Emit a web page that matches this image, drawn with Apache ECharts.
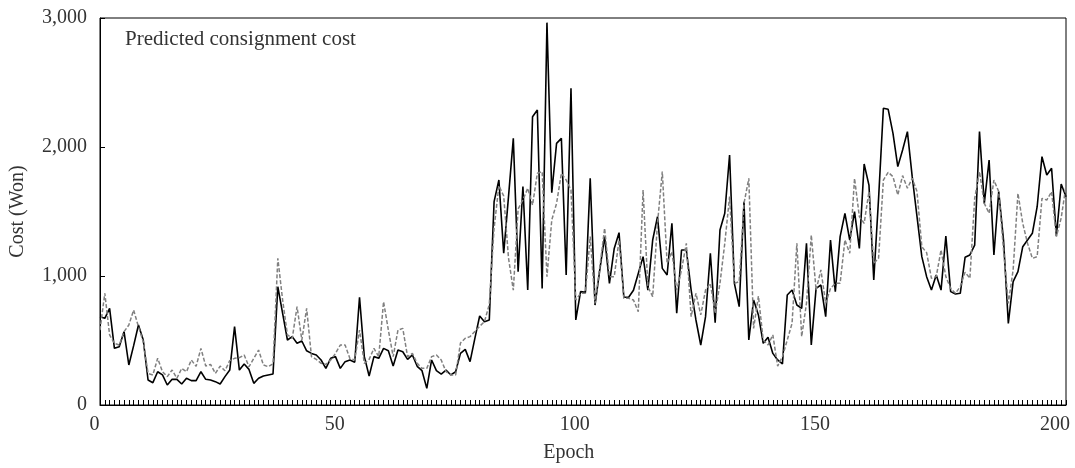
<!DOCTYPE html>
<html>
<head>
<meta charset="utf-8">
<script src="https://cdn.jsdelivr.net/npm/echarts@6/dist/echarts.min.js"></script>
<style>html,body{margin:0;padding:0;background:#fff}#c{width:1075px;height:468px}</style>
</head>
<body>
<div id="c"></div>
<script>
var actual = [685,672,749,439,452,568,310,460,620,504,194,173,258,233,155,199,199,163,207,189,
189,258,199,194,181,163,220,271,607,271,318,276,168,207,225,233,240,917,710,504,
530,478,496,420,400,388,349,284,362,375,284,336,349,331,835,375,225,375,362,439,
421,302,426,413,354,388,300,266,129,349,266,240,271,233,258,400,431,336,517,690,
646,659,1576,1744,1176,1615,2067,1034,1693,891,2235,2287,904,2964,1646,2028,2067,1008,2455,659,
879,873,1757,775,1050,1305,943,1214,1336,835,835,890,1020,1150,891,1279,1460,1059,1008,1408,
711,1202,1202,891,659,465,685,1176,638,1357,1486,1938,943,762,1576,504,814,698,478,525,
400,349,318,853,891,775,749,1253,465,904,930,685,1279,879,1305,1486,1279,1499,1214,1868,
1705,969,1600,2300,2292,2106,1848,1977,2119,1770,1460,1150,995,891,1008,891,1310,879,860,866,
1145,1163,1240,2119,1563,1899,1163,1654,1279,633,956,1034,1227,1279,1331,1537,1925,1783,1835,1310,
1713,1615];
var predicted = [581,866,543,478,465,568,620,736,607,491,245,233,362,258,220,271,207,284,258,349,
300,439,302,315,245,302,266,344,362,367,388,297,362,426,310,297,320,1137,814,543,
517,762,504,749,375,354,323,315,349,400,465,465,360,349,581,323,354,439,375,801,
581,375,581,594,375,400,323,284,284,375,388,349,258,233,233,480,517,530,570,610,
646,780,1370,1700,1620,1140,890,1520,1590,1680,1550,1796,1809,995,1434,1563,1796,1744,1667,814,
866,866,1305,788,1072,1370,995,995,1279,827,827,814,724,1667,917,840,1408,1809,1098,1189,
891,1047,1253,685,866,698,891,943,711,943,1253,1615,943,956,1563,1757,594,845,504,465,
543,302,375,504,633,1253,530,788,1318,891,1047,788,904,943,943,1279,1176,1757,1460,1408,
1654,1098,1137,1744,1804,1770,1628,1778,1680,1757,1654,1227,1181,982,995,1202,995,904,866,917,
1030,982,1602,1809,1563,1486,1744,1654,1202,788,1047,1641,1408,1253,1137,1150,1602,1589,1654,1305,
1450,1700];
var xTickValues = [0,50,100,150,200];
var xTickLabels = ['0','50','100','150','200'];
var yTickValues = [0,1000,2000,3000];
var yTickLabels = ['0','1,000','2,000','3,000'];
var titleText = 'Predicted consignment cost';
var xName = 'Epoch';
var yName = 'Cost (Won)';

var epochs = actual.map(function(_, i){ return i + 1; });
var FONT = 'Liberation Serif';
var TXT = '#333';

var chart = echarts.init(document.getElementById('c'), null, {renderer:'canvas'});
chart.setOption({
  animation: false,
  backgroundColor: '#fff',
  title: {
    text: titleText, left: 125, top: 29, padding: 0,
    textStyle: {fontFamily: FONT, fontWeight: 'normal', fontSize: 21, color: TXT}
  },
  grid: [
    {left: 100, right: 9, top: 18, bottom: 63, show: true, borderColor: '#000', borderWidth: 1},
    {left: 94.5, right: 20, top: 18, bottom: 63, show: false}
  ],
  xAxis: [
    {gridIndex: 0, type: 'value', min: 1, max: epochs.length, interval: 1,
     axisLine: {show: true, lineStyle: {color: '#000', width: 1}},
     axisTick: {show: true, inside: true, length: 5, lineStyle: {color: '#000', width: 1}},
     axisLabel: {show: false}, splitLine: {show: false}},
    {gridIndex: 1, type: 'value', min: 0, max: 200, interval: 50,
     axisLine: {show: false}, axisTick: {show: false}, splitLine: {show: false},
     axisLabel: {fontFamily: FONT, fontSize: 20, color: TXT, margin: 10,
       formatter: function(v){ var k = xTickValues.indexOf(v); return k >= 0 ? xTickLabels[k] : ''; }},
     name: xName, nameLocation: 'middle', nameGap: 38,
     nameTextStyle: {fontFamily: FONT, fontSize: 20, color: TXT, padding: [0, 12, 0, 0]}}
  ],
  yAxis: [
    {gridIndex: 0, type: 'value', min: 0, max: 3000, interval: 1000,
     axisLine: {show: true, lineStyle: {color: '#000', width: 1}},
     axisTick: {show: true, inside: true, length: 5, lineStyle: {color: '#000'}},
     splitLine: {show: false},
     axisLabel: {fontFamily: FONT, fontSize: 20, color: TXT, margin: 13,
       formatter: function(v){ var k = yTickValues.indexOf(v); return k >= 0 ? yTickLabels[k] : ''; }},
     name: yName, nameLocation: 'middle', nameGap: 72, nameRotate: 90,
     nameTextStyle: {fontFamily: FONT, fontSize: 20, color: TXT}},
    {gridIndex: 1, type: 'value', show: false, min: 0, max: 3000}
  ],
  series: [
    {name: 'Actual', type: 'line', xAxisIndex: 0, yAxisIndex: 0, showSymbol: false, symbol: 'none',
     data: epochs.map(function(e, i){ return [e, actual[i]]; }),
     lineStyle: {color: '#000', width: 1.6}, z: 2},
    {name: 'Predicted', type: 'line', xAxisIndex: 0, yAxisIndex: 0, showSymbol: false, symbol: 'none',
     data: epochs.map(function(e, i){ return [e, predicted[i]]; }),
     lineStyle: {color: '#808080', width: 1.5, type: [4, 2]}, z: 3}
  ]
});
</script>
</body>
</html>
